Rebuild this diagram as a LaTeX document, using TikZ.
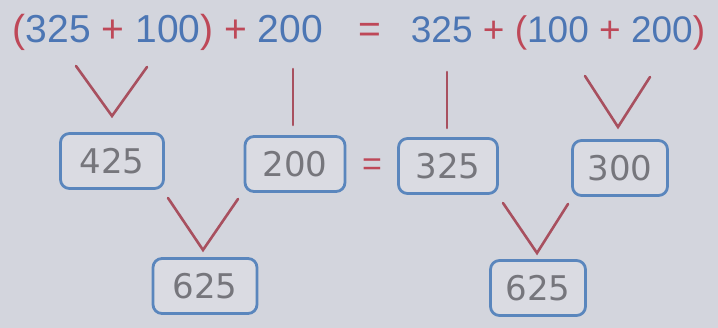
\documentclass[tikz,border=0pt]{standalone}
\usepackage{fontspec}
\setmainfont{Liberation Sans}
\newfontfamily\handfont{DejaVu Sans}
\definecolor{bgc}{RGB}{211,213,221}
\definecolor{bluet}{RGB}{76,118,180}
\definecolor{redt}{RGB}{190,72,88}
\definecolor{redl}{RGB}{168,80,95}
\definecolor{boxb}{RGB}{90,134,189}
\definecolor{pencil}{RGB}{118,118,124}
\begin{document}
\begin{tikzpicture}[x=1pt,y=-1pt,
  expr/.style={inner sep=0pt,anchor=base,font=\fontsize{39}{41}\selectfont},
  ansbox/.style={draw=boxb,line width=2.8pt,rounded corners=9pt,fill=bgc!85!white,
     minimum width=#1,minimum height=55pt,inner sep=0pt,
     font=\handfont\fontsize{34}{36}\selectfont,text=pencil},
  ansbox/.default=100pt,
  redline/.style={draw=redl,line width=2.6pt,line cap=round,line join=miter}]
\fill[bgc] (0,0) rectangle (718,328);
\useasboundingbox (0,0) rectangle (718,328);
% top equation
\node[expr] (lexp) at (168,43) {\textcolor{redt}{(}\textcolor{bluet}{325} \textcolor{redt}{+} \textcolor{bluet}{100}\textcolor{redt}{)} \textcolor{redt}{+} \textcolor{bluet}{200}};
\node[expr,text=redt] (teq) at (370,43) {=};
\node[expr,font=\fontsize{37}{39}\selectfont] (rexp) at (558,43) {\textcolor{bluet}{325} \textcolor{redt}{+} \textcolor{redt}{(}\textcolor{bluet}{100} \textcolor{redt}{+} \textcolor{bluet}{200}\textcolor{redt}{)}};
% boxes row 1
\node[ansbox=103pt] (b425) at (112,161) {425};
\node[ansbox=100pt] (b200) at (295,164) {200};
\node[ansbox=99pt] (b325) at (448,166) {325};
\node[ansbox=95pt] (b300) at (620,168) {300};
\node[inner sep=0pt,text=redt,font=\fontsize{34}{36}\selectfont] (meq) at (372,167) {=};
% boxes row 2
\node[ansbox=104pt] (c625a) at (205,286) {625};
\node[ansbox=95pt] (c625b) at (538,288) {625};
% connector coordinates
\coordinate (v1a) at (76,66);
\coordinate (v1b) at (147,67);
\coordinate (v1t) at (112,116);
\coordinate (l1a) at (293,69);
\coordinate (l1b) at (293,125);
\coordinate (l2a) at (447,72);
\coordinate (l2b) at (447,128);
\coordinate (v2a) at (585,76);
\coordinate (v2b) at (650,77);
\coordinate (v2t) at (618,127);
\coordinate (v3a) at (168,198);
\coordinate (v3b) at (238,199);
\coordinate (v3t) at (203,250);
\coordinate (v4a) at (503,203);
\coordinate (v4b) at (568,204);
\coordinate (v4t) at (537,253);
\draw[redline] (v1a) -- (v1t) -- (v1b);
\draw[redline] (l1a) -- (l1b);
\draw[redline] (l2a) -- (l2b);
\draw[redline] (v2a) -- (v2t) -- (v2b);
\draw[redline] (v3a) -- (v3t) -- (v3b);
\draw[redline] (v4a) -- (v4t) -- (v4b);
\end{tikzpicture}
\end{document}
